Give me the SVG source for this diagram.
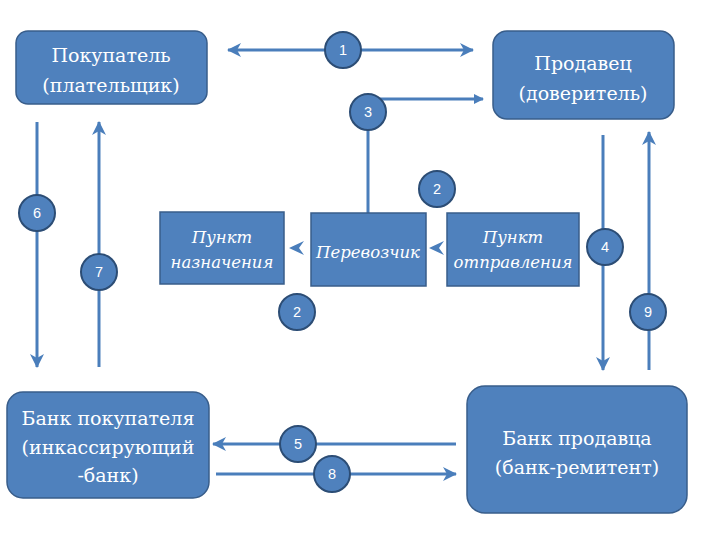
<svg xmlns="http://www.w3.org/2000/svg" width="720" height="540" viewBox="0 0 720 540">
<defs>
<style>
.box{fill:#4F81BD;stroke:#385D8A;stroke-width:1.5}
.t{font-family:'DejaVu Serif',serif;font-size:19px;fill:#fff;text-anchor:middle}
.ti{font-family:'DejaVu Serif',serif;font-size:16.5px;font-style:italic;fill:#fff;text-anchor:middle}
.ln{stroke:#4A7EBB;stroke-width:3;fill:none}
.c{fill:#4F81BD;stroke:#2C4D75;stroke-width:2}
.n{font-family:'Liberation Sans',Arial,sans-serif;font-size:14.5px;fill:#fff;text-anchor:middle}
.ah{fill:#4A7EBB}
</style>
<marker id="arr" viewBox="0 0 14 14" refX="13" refY="7" markerWidth="14" markerHeight="14" markerUnits="userSpaceOnUse" orient="auto-start-reverse">
<path d="M0,0 L14,7 L0,14 L4,7 Z" fill="#4A7EBB"/>
</marker>
<marker id="arrs" viewBox="0 0 10 10" refX="9" refY="5" markerWidth="10" markerHeight="10" markerUnits="userSpaceOnUse" orient="auto">
<path d="M0,0 L10,5 L0,10 Z" fill="#4A7EBB"/>
</marker>
</defs>
<rect width="720" height="540" fill="#fff"/>
<g id="connectors">
<line class="ln" x1="228" y1="50" x2="473" y2="50" marker-start="url(#arr)" marker-end="url(#arr)"/>
<polyline class="ln" points="368,213 368,99 483,99" marker-end="url(#arrs)"/>
<line class="ln" x1="37" y1="122" x2="37" y2="367" marker-end="url(#arr)"/>
<line class="ln" x1="99" y1="367" x2="99" y2="122" marker-end="url(#arr)"/>
<line class="ln" x1="603" y1="135" x2="603" y2="370" marker-end="url(#arr)"/>
<line class="ln" x1="649" y1="370" x2="649" y2="132" marker-end="url(#arr)"/>
<line class="ln" x1="456" y1="444" x2="213" y2="444" marker-end="url(#arr)"/>
<line class="ln" x1="216" y1="474" x2="456" y2="474" marker-end="url(#arr)"/>
<path class="ah" d="M289,248 L304,241 L299,248 L304,255 Z"/>
<path class="ah" d="M429,248 L444,241 L439,248 L444,255 Z"/>
</g>
<g id="buyer"><rect class="box" x="16" y="31" width="191" height="73" rx="12"/><text class="t" x="111" y="62">Покупатель</text><text class="t" x="111" y="92">(плательщик)</text></g>
<g id="seller"><rect class="box" x="493" y="31" width="181" height="88" rx="14"/><text class="t" x="583" y="70">Продавец</text><text class="t" x="583" y="100">(доверитель)</text></g>
<g id="buyer-bank"><rect class="box" x="7" y="392" width="202" height="106" rx="16"/><text class="t" x="108" y="425">Банк покупателя</text><text class="t" x="108" y="454">(инкассирующий</text><text class="t" x="108" y="482">-банк)</text></g>
<g id="seller-bank"><rect class="box" x="467" y="386" width="220" height="127" rx="18"/><text class="t" x="577" y="445">Банк продавца</text><text class="t" x="577" y="474">(банк-ремитент)</text></g>
<g id="destination"><rect class="box" x="160" y="212" width="124" height="72"/><text class="ti" x="222" y="243">Пункт</text><text class="ti" x="222" y="268">назначения</text></g>
<g id="carrier"><rect class="box" x="311" y="213" width="115" height="73"/><text class="ti" x="368" y="258">Перевозчик</text></g>
<g id="origin"><rect class="box" x="447" y="213" width="132" height="73"/><text class="ti" x="513" y="243">Пункт</text><text class="ti" x="513" y="268">отправления</text></g>
<g id="badges">
<circle class="c" cx="343" cy="50" r="18"/><text class="n" x="343" y="55">1</text>
<circle class="c" cx="368" cy="112" r="18"/><text class="n" x="368" y="117">3</text>
<circle class="c" cx="437" cy="189" r="18"/><text class="n" x="437" y="194">2</text>
<circle class="c" cx="297" cy="312" r="18"/><text class="n" x="297" y="317">2</text>
<circle class="c" cx="37" cy="213" r="18"/><text class="n" x="37" y="218">6</text>
<circle class="c" cx="99" cy="272" r="18"/><text class="n" x="99" y="277">7</text>
<circle class="c" cx="605" cy="247" r="18"/><text class="n" x="605" y="252">4</text>
<circle class="c" cx="648" cy="312" r="18"/><text class="n" x="648" y="317">9</text>
<circle class="c" cx="298" cy="444" r="18"/><text class="n" x="298" y="449">5</text>
<circle class="c" cx="332" cy="474" r="18"/><text class="n" x="332" y="479">8</text>
</g>
</svg>
